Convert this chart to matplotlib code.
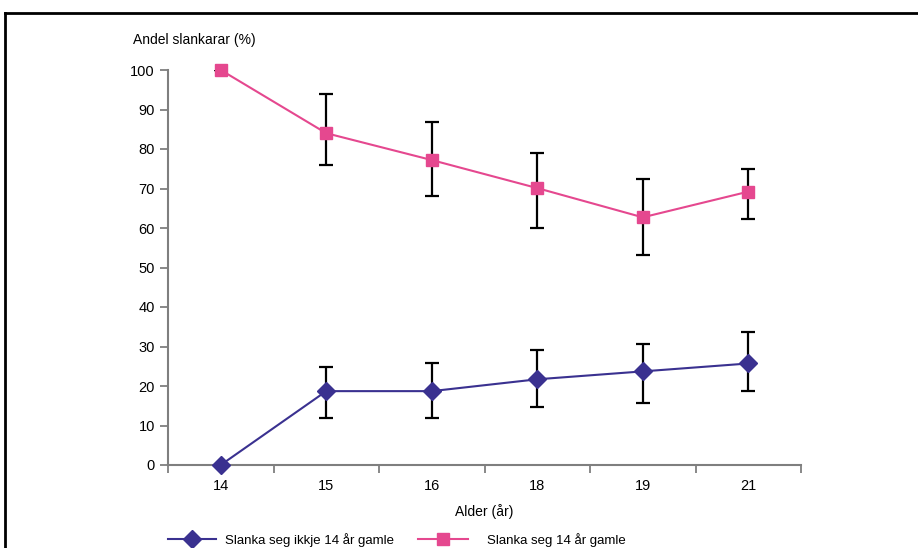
import matplotlib
matplotlib.use('Agg')
import matplotlib.pyplot as plt
from matplotlib.lines import Line2D

plt.rcParams['font.family'] = ['Liberation Sans', 'DejaVu Sans']

ages = ['14', '15', '16', '18', '19', '21']

# Slanka seg ikkje 14 år gamle
blue_y = [0, 18.7, 18.7, 21.7, 23.7, 25.7]
blue_lo = [0, 11.9, 11.9, 14.8, 15.7, 18.7]
blue_hi = [0, 24.8, 25.8, 29.1, 30.6, 33.7]

# Slanka seg 14 år gamle
pink_y = [100, 84, 77.2, 70.1, 62.7, 69.2]
pink_lo = [100, 75.9, 68.1, 60.0, 53.1, 62.2]
pink_hi = [100, 93.9, 86.8, 79.0, 72.4, 74.9]

labels = ['Slanka seg ikkje 14 år gamle', 'Slanka seg 14 år gamle']

blue = '#3A3190'
pink = '#E5488F'
gray = '#7F7F7F'

fig = plt.figure(figsize=(9.18, 5.48), dpi=100)
ax = fig.add_axes([168 / 918, 1 - 465 / 548, (801 - 168) / 918, (465 - 70) / 548])

x = list(range(len(ages)))

def err(y, lo, hi):
    return [[a - b for a, b in zip(y, lo)], [c - a for a, c in zip(y, hi)]]

ax.errorbar(x, blue_y, yerr=err(blue_y, blue_lo, blue_hi), fmt='none',
            ecolor='black', elinewidth=1.6, capsize=5, capthick=1.6, zorder=2)
ax.errorbar(x, pink_y, yerr=err(pink_y, pink_lo, pink_hi), fmt='none',
            ecolor='black', elinewidth=1.6, capsize=5, capthick=1.6, zorder=2)
ax.plot(x, blue_y, color=blue, lw=1.5, marker='D', ms=9, zorder=3, clip_on=False)
ax.plot(x, pink_y, color=pink, lw=1.5, marker='s', ms=8, zorder=3, clip_on=False)

ax.set_xlim(-0.5, len(ages) - 0.5)
ax.set_ylim(0, 100)
ax.set_yticks(range(0, 101, 10))
ax.set_xticks([i - 0.5 for i in range(len(ages) + 1)])
ax.set_xticklabels([])
ax.set_xticks(x, minor=True)
ax.set_xticklabels(ages, minor=True)
ax.tick_params(axis='x', which='minor', length=0, pad=10, labelsize=10.5)
ax.tick_params(axis='x', which='major', length=6, width=1.3, color=gray)
ax.tick_params(axis='y', length=6, width=1.3, color=gray, labelsize=10.5, pad=3.5)

for side in ['top', 'right']:
    ax.spines[side].set_visible(False)
for side in ['left', 'bottom']:
    ax.spines[side].set_color(gray)
    ax.spines[side].set_linewidth(1.5)

ax.set_xlabel('Alder (år)', fontsize=10, labelpad=8)
fig.text(133 / 918, 1 - 40 / 548, 'Andel slankarar (%)', fontsize=10, va='center', ha='left')

handles = [
    Line2D([], [], color=blue, lw=1.5, marker='D', ms=9),
    Line2D([], [], color=pink, lw=1.5, marker='s', ms=8),
]
leg_x = [168 / 918, 418 / 918]
hlen = [3.6, 3.8]
text_pad = [0.7, 1.4]
for h, lab, lx, hl, tp in zip(handles, labels, leg_x, hlen, text_pad):
    fig.legend([h], [lab], loc='center left', bbox_to_anchor=(lx, 1 - 540 / 548),
               frameon=False, fontsize=9.5, handlelength=hl, handletextpad=tp,
               borderpad=0, borderaxespad=0)

# frame round the chart (top and left edges visible)
fig.add_artist(Line2D([5 / 918, 5 / 918], [0, 1 - 13 / 548], color='black', lw=2))
fig.add_artist(Line2D([5 / 918, 1], [1 - 13 / 548, 1 - 13 / 548], color='black', lw=2))

fig.savefig('out.png', dpi=100)
